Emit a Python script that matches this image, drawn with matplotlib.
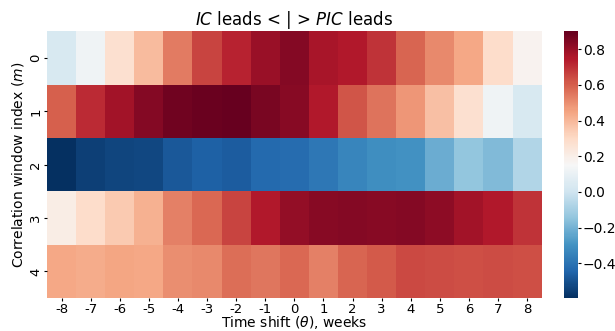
import numpy as np
import matplotlib
matplotlib.use("Agg")
import matplotlib.pyplot as plt
import seaborn as sns

shifts = ["-8", "-7", "-6", "-5", "-4", "-3", "-2", "-1", "0",
          "1", "2", "3", "4", "5", "6", "7", "8"]
windows = ["0", "1", "2", "3", "4"]

# correlation per window (rows) and time shift (columns)
row0 = [0.03, 0.12, 0.27, 0.39, 0.54, 0.66, 0.73, 0.80, 0.84,
        0.77, 0.75, 0.69, 0.59, 0.51, 0.44, 0.29, 0.18]
row1 = [0.60, 0.71, 0.78, 0.84, 0.88, 0.89, 0.90, 0.86, 0.83,
        0.75, 0.62, 0.56, 0.48, 0.38, 0.27, 0.12, 0.03]
row2 = [-0.595, -0.55, -0.535, -0.53, -0.48, -0.46, -0.47, -0.43, -0.42,
        -0.385, -0.34, -0.31, -0.30, -0.22, -0.145, -0.175, -0.07]
row3 = [0.21, 0.29, 0.35, 0.42, 0.53, 0.58, 0.66, 0.75, 0.81,
        0.83, 0.84, 0.83, 0.84, 0.82, 0.78, 0.75, 0.69]
row4 = [0.44, 0.43, 0.45, 0.44, 0.50, 0.51, 0.57, 0.55, 0.58,
        0.53, 0.59, 0.61, 0.645, 0.64, 0.635, 0.64, 0.635]

corr = np.array([row0, row1, row2, row3, row4])

fig = plt.figure(figsize=(6.15, 3.31), dpi=100)
ax = fig.add_axes([0.0764, 0.0997, 0.8043, 0.8053])   # heatmap
cax = fig.add_axes([0.917, 0.0997, 0.0228, 0.8053])   # colorbar

sns.heatmap(corr, cmap="RdBu_r", ax=ax, cbar_ax=cax,
            xticklabels=shifts, yticklabels=windows)

ax.set_title("$IC$ leads < | > $PIC$ leads", fontsize=12, pad=2.5)
ax.set_xlabel(r"Time shift ($\theta$), weeks", fontsize=10, labelpad=-1)
ax.set_ylabel("Correlation window index ($m$)", fontsize=10, labelpad=2)
ax.tick_params(axis="both", labelsize=9.5, length=2.5, pad=1)
ax.set_yticklabels(windows, rotation=90, va="center")
cax.tick_params(labelsize=10, length=2.5, pad=1)

fig.savefig("out.png", dpi=100)
